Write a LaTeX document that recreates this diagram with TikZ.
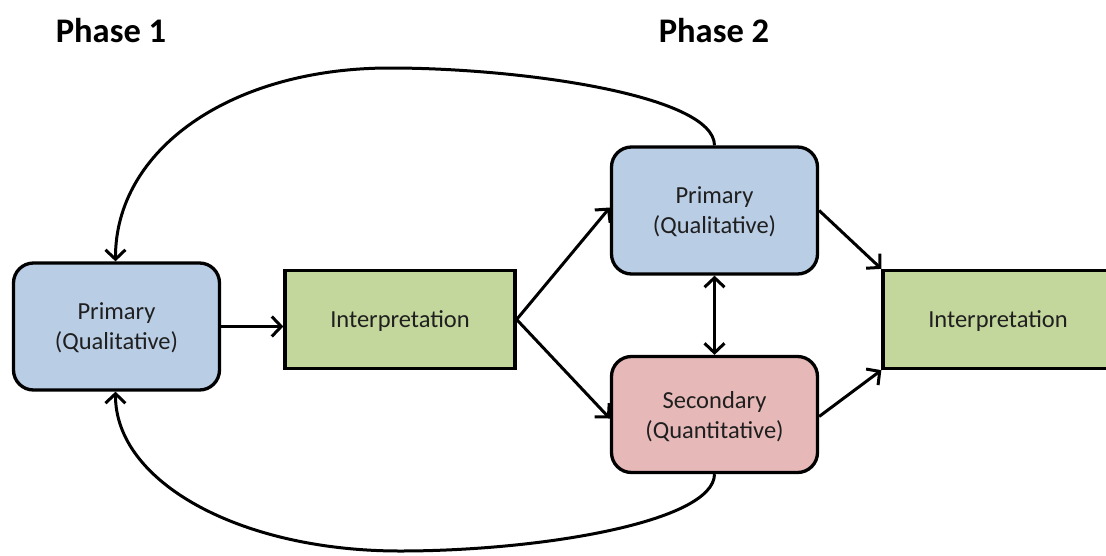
\documentclass[tikz,border=0pt]{standalone}
\usepackage{fontspec}
\setmainfont{Carlito}
\usetikzlibrary{arrows.meta}

\definecolor{qualblue}{HTML}{B9CDE5}
\definecolor{interpgreen}{HTML}{C3D69B}
\definecolor{quantred}{HTML}{E6B9B8}

\tikzset{
  box/.style={draw=black, line width=3.3pt, align=center, inner sep=0pt,
              font=\fontsize{24.5}{30}\selectfont, text=black!88, text depth=0pt},
  roundbox/.style={box, rounded corners=20pt, minimum width=206pt},
  interpbox/.style={box, fill=interpgreen, minimum width=230pt, minimum height=98pt},
  barb/.tip={Straight Barb[length=9.5pt,width=20pt,line width=3pt]},
  link/.style={line width=3pt, -barb},
  twoway/.style={line width=3pt, barb-barb},
  phase/.style={font=\fontsize{34.5}{40}\selectfont\bfseries, anchor=base}
}

\begin{document}
\begin{tikzpicture}[x=1pt, y=-1pt]
  \useasboundingbox (0,0) rectangle (1106,555);
  \clip (0,0) rectangle (1106,555);

  % phase headings
  \node[phase] (ph1) at (111,42) {Phase 1};
  \node[phase] (ph2) at (714,42) {Phase 2};

  % phase 1
  \node[roundbox, fill=qualblue, minimum height=127pt] (p1) at (116.5,326.5) {Primary\\(Qualitative)};
  \node[interpbox] (i1) at (400,319.5) {Interpretation};

  % phase 2
  \node[roundbox, fill=qualblue, minimum height=127pt] (p2) at (714.5,210.5) {Primary\\(Qualitative)};
  \node[roundbox, fill=quantred, minimum height=116pt] (s2) at (714.5,414.5) {Secondary\\(Quantitative)};
  \node[interpbox] (i2) at (998,319.5) {Interpretation};

  % straight connectors
  \draw[link] (p1.east) -- (p1.east -| i1.west);
  \draw[link] (i1.east) -- ([yshift=3pt]p2.west);
  \draw[link] (i1.east) -- ([yshift=-4pt]s2.west);
  \draw[twoway] (p2.south) -- (s2.north);
  \draw[link] (p2.east) -- (i2.north west);
  \draw[link] ([yshift=-2pt]s2.east) -- (i2.south west);

  % feedback loops back to the first phase
  \coordinate (topmid) at (390,68);
  \coordinate (botmid) at (400,551);
  \draw[link] (p2.north) .. controls (714,95) and (520,68) .. (topmid)
                          .. controls (230,68) and (115,150) .. ([xshift=-1pt]p1.north);
  \draw[link] (s2.south) .. controls (714,522) and (540,551) .. (botmid)
                          .. controls (240,551) and (115,482) .. ([xshift=-1pt]p1.south);
\end{tikzpicture}
\end{document}
